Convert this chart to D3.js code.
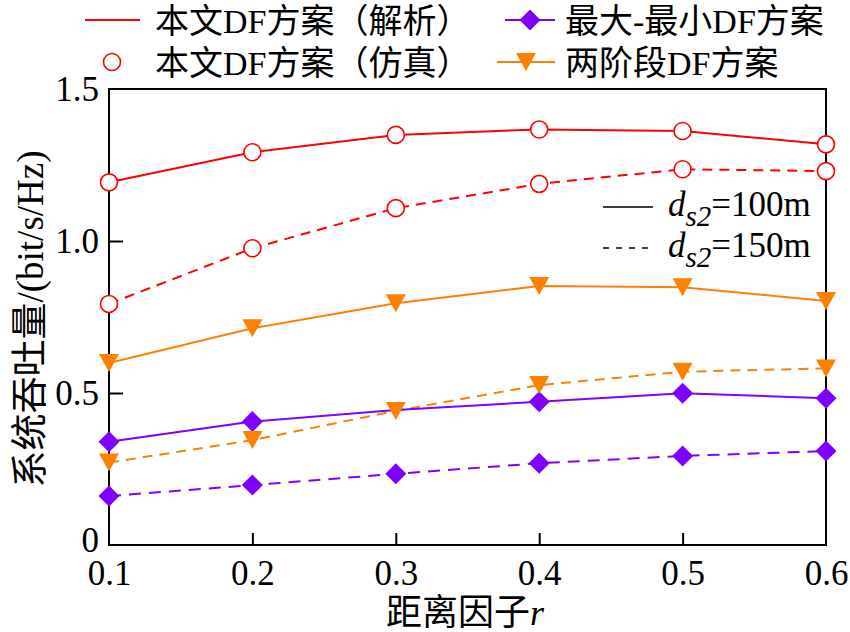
<!DOCTYPE html>
<html><head><meta charset="utf-8">
<script src="https://cdn.jsdelivr.net/npm/d3@7/dist/d3.min.js"></script>
<style>body{margin:0;background:#fff}</style>
</head><body>
<svg id="c" width="850" height="632"></svg>
<script>
// ---- data ----
const rValues = [0.1, 0.2, 0.3, 0.4, 0.5, 0.6];
const xTickLabels = ["0.1", "0.2", "0.3", "0.4", "0.5", "0.6"];
const yTickValues = [0, 0.5, 1.0, 1.5];
const yTickLabels = ["0", "0.5", "1.0", "1.5"];

const proposedAnalytic100 = [1.193, 1.292, 1.349, 1.367, 1.362, 1.318];
const proposedAnalytic150 = [0.793, 0.976, 1.108, 1.188, 1.236, 1.230];
const proposedSim100 = [1.193, 1.292, 1.349, 1.367, 1.362, 1.318];
const proposedSim150 = [0.793, 0.976, 1.108, 1.188, 1.236, 1.230];
const maxMin100 = [0.340, 0.406, 0.444, 0.471, 0.499, 0.483];
const maxMin150 = [0.161, 0.197, 0.234, 0.269, 0.293, 0.309];
const twoStage100 = [0.599, 0.713, 0.795, 0.852, 0.848, 0.803];
const twoStage150 = [0.271, 0.345, 0.441, 0.526, 0.570, 0.581];
const maxMin100MarkerShown = [true, true, false, true, true, true];

const legendLabels = ["本文DF方案（解析）", "最大-最小DF方案", "本文DF方案（仿真）", "两阶段DF方案"];

// ---- layout ----
const RED = "#ff0000", PURPLE = "#8000ff", ORANGE = "#ff8000";
const FONT = "'Liberation Serif','Noto Sans CJK SC',serif";
const svg = d3.select("#c");
const L = 109, R = 826, T = 89, B = 545;
const x = d3.scaleLinear().domain([0.1, 0.6]).range([L, R]);
const y = d3.scaleLinear().domain([0, 1.5]).range([B, T]);

// axes
const xAxis = d3.axisBottom(x).tickValues(rValues).tickFormat((d, i) => xTickLabels[i])
  .tickSizeInner(-12).tickSizeOuter(0).tickPadding(15);
const yAxis = d3.axisLeft(y).tickValues(yTickValues).tickFormat((d, i) => yTickLabels[i])
  .tickSizeInner(-14).tickSizeOuter(0).tickPadding(10);
const gx = svg.append("g").attr("transform", `translate(0,${B})`).call(xAxis);
const gy = svg.append("g").attr("transform", `translate(${L},0)`).call(yAxis);
[gx, gy].forEach(g => {
  g.select(".domain").remove();
  g.selectAll("line").attr("stroke", "#000").attr("stroke-width", 2);
  g.selectAll("text").attr("font-family", FONT).attr("font-size", 35).attr("fill", "#000");
});
gx.selectAll(".tick").filter((d, i) => i === 0 || i === rValues.length - 1).select("line").remove();
gy.selectAll(".tick").filter(d => d === 0 || d === 1.5).select("line").remove();
gy.selectAll(".tick").filter(d => d === 0).select("text").attr("y", -5);

// frame
svg.append("rect").attr("x", L).attr("y", T).attr("width", R - L).attr("height", B - T)
  .attr("fill", "none").attr("stroke", "#000").attr("stroke-width", 2);

// lines
const line = d3.line().x((d, i) => x(rValues[i])).y(d => y(d));
function drawLine(vals, color, dash) {
  svg.append("path").datum(vals).attr("d", line).attr("fill", "none")
    .attr("stroke", color).attr("stroke-width", 2)
    .attr("stroke-dasharray", dash || null);
}
drawLine(proposedAnalytic100, RED);
drawLine(proposedAnalytic150, RED, "10,7");
drawLine(twoStage100, ORANGE);
drawLine(twoStage150, ORANGE, "10,7");
drawLine(maxMin100, PURPLE);
drawLine(maxMin150, PURPLE, "12,8");

// markers
const diamondPath = "M0,-10.5L10.5,0L0,10.5L-10.5,0Z";
const triPath = "M-10,-9L10,-9L0,9Z";
function drawMarkers(vals, kind, shown) {
  const g = svg.append("g");
  vals.forEach((v, i) => {
    if (shown && !shown[i]) return;
    const cx = x(rValues[i]), cy = y(v);
    if (kind === "circle") {
      g.append("circle").attr("cx", cx).attr("cy", cy).attr("r", 8.5)
        .attr("fill", "#fff").attr("stroke", RED).attr("stroke-width", 1.6);
    } else if (kind === "diamond") {
      g.append("path").attr("d", diamondPath).attr("fill", PURPLE)
        .attr("transform", `translate(${cx},${cy})`);
    } else {
      g.append("path").attr("d", triPath).attr("fill", ORANGE)
        .attr("transform", `translate(${cx},${cy})`);
    }
  });
}
drawMarkers(maxMin100, "diamond", maxMin100MarkerShown);
drawMarkers(maxMin150, "diamond");
drawMarkers(twoStage100, "tri");
drawMarkers(twoStage150, "tri");
drawMarkers(proposedSim100, "circle");
drawMarkers(proposedSim150, "circle");

// axis titles
svg.append("text").attr("x", 465).attr("y", 625).attr("text-anchor", "middle")
  .attr("font-family", FONT).attr("font-size", 36)
  .call(t => { t.append("tspan").text("距离因子"); t.append("tspan").attr("font-style", "italic").text("r"); });
svg.append("text").attr("transform", "translate(43,319) rotate(-90)").attr("text-anchor", "middle")
  .attr("font-family", FONT).attr("font-size", 37).text("系统吞吐量/(bit/s/Hz)");

// top legend
const lg = svg.append("g").attr("font-family", FONT).attr("font-size", 34);
lg.append("line").attr("x1", 85).attr("x2", 140).attr("y1", 20).attr("y2", 20).attr("stroke", RED).attr("stroke-width", 2);
lg.append("text").attr("x", 155).attr("y", 33).text(legendLabels[0]);
lg.append("line").attr("x1", 505).attr("x2", 555).attr("y1", 20).attr("y2", 20).attr("stroke", PURPLE).attr("stroke-width", 2);
lg.append("path").attr("d", diamondPath).attr("fill", PURPLE).attr("transform", "translate(530,20)");
lg.append("text").attr("x", 565).attr("y", 33).text(legendLabels[1]);
lg.append("circle").attr("cx", 112).attr("cy", 62).attr("r", 8.5).attr("fill", "#fff").attr("stroke", RED).attr("stroke-width", 1.6);
lg.append("text").attr("x", 155).attr("y", 75).text(legendLabels[2]);
lg.append("line").attr("x1", 497).attr("x2", 555).attr("y1", 62).attr("y2", 62).attr("stroke", ORANGE).attr("stroke-width", 2);
lg.append("path").attr("d", triPath).attr("fill", ORANGE).attr("transform", "translate(526,62)");
lg.append("text").attr("x", 565).attr("y", 75).text(legendLabels[3]);

// distance legend
const dl = svg.append("g").attr("font-family", FONT).attr("font-size", 35);
[["100m", 207, 216, null], ["150m", 248, 257, "6,7"]].forEach(([lab, ly, ty, dash]) => {
  dl.append("line").attr("x1", 603).attr("x2", 653).attr("y1", ly).attr("y2", ly)
    .attr("stroke", "#000").attr("stroke-width", 1.5).attr("stroke-dasharray", dash);
  const t = dl.append("text").attr("x", 668).attr("y", ty);
  t.append("tspan").attr("font-style", "italic").text("d");
  t.append("tspan").attr("font-style", "italic").attr("font-size", 29).attr("dy", 10).text("s2");
  t.append("tspan").attr("dy", -10).text("=" + lab);
});
</script>
</body></html>
